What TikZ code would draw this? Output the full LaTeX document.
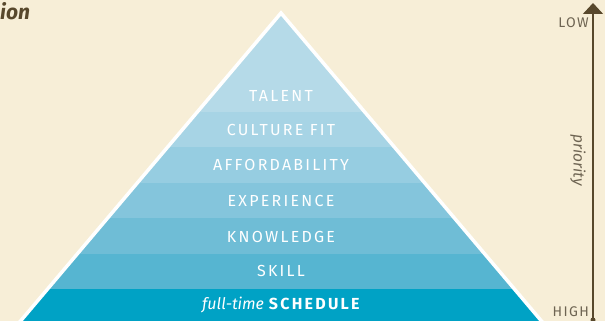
\documentclass[tikz,border=0pt]{standalone}
\usepackage{fontspec}
\setmainfont{Fira Sans}
\newfontfamily\bandfont[LetterSpace=14]{Fira Sans}
\newfontfamily\sidefont[LetterSpace=10]{Fira Sans}
\usetikzlibrary{positioning, calc, arrows.meta}

\definecolor{paper}{RGB}{247,238,215}
\definecolor{inkbrown}{RGB}{88,72,44}
\definecolor{sidegray}{RGB}{110,100,82}
\definecolor{band0}{RGB}{181,218,232}
\definecolor{band1}{RGB}{167,212,229}
\definecolor{band2}{RGB}{150,205,225}
\definecolor{band3}{RGB}{132,197,220}
\definecolor{band4}{RGB}{111,189,214}
\definecolor{band5}{RGB}{86,181,209}
\definecolor{band6}{RGB}{0,162,197}

\tikzset{%
  level/.style={text=white, font=\bandfont\fontsize{16}{17}\selectfont, inner sep=0pt}, % labels inside the pyramid
  sidelabel/.style={text=sidegray, font=\sidefont\fontsize{14}{15}\selectfont, inner sep=0pt},
  edgeline/.style={draw=white, line width=3.5pt, line join=miter}
}

\begin{document}
\begin{tikzpicture}[x=1pt, y=-1pt]

\useasboundingbox[fill=paper] (0,0) rectangle (605,321);
\clip (0,0) rectangle (605,321);

% pyramid corners, the base lies just below the page
\coordinate (apex) at (281,13);
\coordinate (bl) at (18,324);
\coordinate (br) at (544,324);

% coloured bands, cut to the triangle
\begin{scope}
  \clip (apex) -- (bl) -- (br) -- cycle;
  \foreach \top/\bot/\col in {0/112/band0, 112/147/band1, 147/183/band2,
      183/218/band3, 218/254/band4, 254/289/band5, 289/330/band6}
    \fill[\col] (0,\top) rectangle (605,\bot);
\end{scope}
\draw[edgeline] (bl) -- (apex) -- (br);

% level names
\node[level] (talent) at (281,96) {TALENT};
\node[level] (culture) at (281,130) {CULTURE FIT};
\node[level] (afford) at (281,165) {AFFORDABILITY};
\node[level] (exper) at (281,201) {EXPERIENCE};
\node[level] (know) at (281,237) {KNOWLEDGE};
\node[level] (skill) at (281,271) {SKILL};
\node[level] (sched) at (282,305) {{\fontspec{Fira Sans}\itshape full-time}\hspace{5pt}\textbf{SCHEDULE}};

% priority scale
\coordinate (high) at (593,320);
\coordinate (low) at (593,3);
\fill[inkbrown] (high) circle (2.5);
\draw[inkbrown, line width=1.5pt, -{Triangle[length=11pt, width=20pt]}] (high) -- (low);
\node[sidelabel, anchor=east] (lowlbl) at (589,23) {LOW};
\node[sidelabel, anchor=east] (highlbl) at (589,312) {HIGH};
\node[text=sidegray, font=\itshape\fontsize{15.5}{16}\selectfont, rotate=-90, inner sep=0pt] (prio) at (578,160) {priority};

% heading, running off the left side
\node[text=inkbrown, font=\bfseries\itshape\fontsize{21}{23}\selectfont, anchor=base west, inner sep=0pt] (head) at (0,20) {ion};

\end{tikzpicture}
\end{document}
